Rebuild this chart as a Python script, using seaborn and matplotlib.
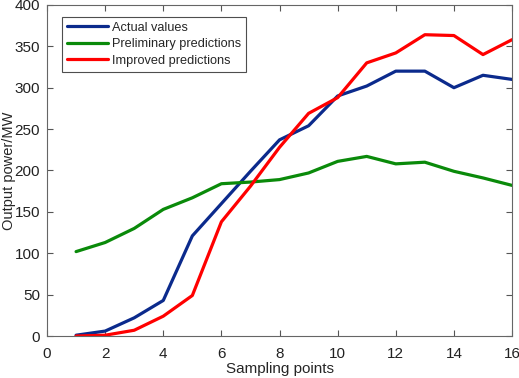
import matplotlib.pyplot as plt
import pandas as pd
import seaborn as sns

# Data
sampling_points = list(range(1, 17))
actual_values = [1, 6, 22, 43, 121, 160, 199, 237, 254, 290, 302, 320, 320, 300, 315, 310]
preliminary_predictions = [102, 113, 130, 153, 167, 184, 186, 189, 197, 211, 217, 208, 210, 199, 191, 182]
improved_predictions = [0, 1, 7, 24, 49, 138, 181, 228, 269, 288, 330, 342, 364, 363, 340, 358]

series_names = ['Actual values', 'Preliminary predictions', 'Improved predictions']
series_colors = ['#0b2a8c', '#0a8a0a', '#ff0000']

df = pd.DataFrame({
    'x': sampling_points * 3,
    'y': actual_values + preliminary_predictions + improved_predictions,
    'series': [series_names[0]] * 16 + [series_names[1]] * 16 + [series_names[2]] * 16,
})

sns.set_style('white')
plt.rcParams['font.family'] = ['Liberation Sans', 'DejaVu Sans']

fig = plt.figure(figsize=(5.19, 3.78), dpi=100)
ax = fig.add_axes([0.0906, 0.111, 0.896, 0.876])

sns.lineplot(data=df, x='x', y='y', hue='series', palette=series_colors,
             linewidth=2.3, ax=ax)

ax.set_xlim(0, 16)
ax.set_ylim(0, 400)
ax.set_xticks(range(0, 17, 2))
ax.set_yticks(range(0, 401, 50))
ax.set_xlabel('Sampling points', fontsize=11)
ax.set_ylabel('Output power/MW', fontsize=10.5)
ax.xaxis.set_label_coords(0.5, -0.077)
ax.yaxis.set_label_coords(-0.066, 0.5)
ax.tick_params(direction='in', length=4, width=0.8, color='#555555',
               labelsize=11, labelcolor='#222222', top=True, right=True,
               bottom=True, left=True, labeltop=False, labelright=False)
ax.tick_params(axis='x', pad=8)
ax.tick_params(axis='y', pad=5)
for s in ax.spines.values():
    s.set_color('#666666')
    s.set_linewidth(0.8)

leg = ax.legend(loc='upper left', bbox_to_anchor=(0.032, 0.965), fontsize=9.2,
                frameon=True, fancybox=False, borderaxespad=0,
                handlelength=3.2, handletextpad=0.3, labelspacing=0.35,
                borderpad=0.4)
leg.get_frame().set_edgecolor('#222222')
leg.get_frame().set_linewidth(0.8)

fig.savefig('out.png', dpi=100)
